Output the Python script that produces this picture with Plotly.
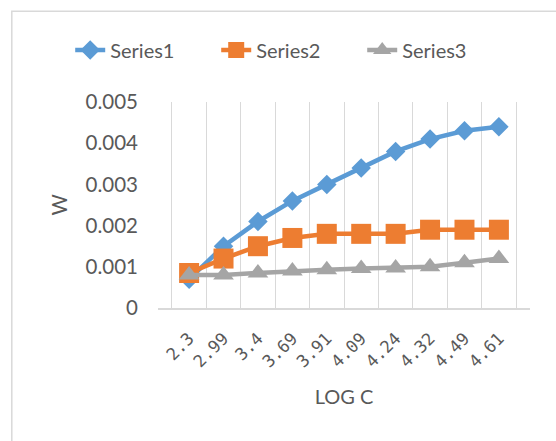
import plotly.graph_objects as go

# Category labels (log concentration) and the three measured series
log_c = ["2.3", "2.99", "3.4", "3.69", "3.91", "4.09", "4.24", "4.32", "4.49", "4.61"]
series1 = [0.0007, 0.0015, 0.0021, 0.0026, 0.0030, 0.0034, 0.0038, 0.0041, 0.0043, 0.0044]
series2 = [0.00085, 0.0012, 0.0015, 0.0017, 0.0018, 0.0018, 0.0018, 0.0019, 0.0019, 0.0019]
series3 = [0.0008, 0.0008, 0.00085, 0.0009, 0.00093, 0.00096, 0.00097, 0.0010, 0.0011, 0.0012]
y_ticks = [0, 0.001, 0.002, 0.003, 0.004, 0.005]

FONT = "Lato"
TEXT = "#595959"
GRID = "#d9d9d9"

fig = go.Figure()
styles = [
    ("Series1", series1, "#5B9BD5", "diamond", 15),
    ("Series2", series2, "#ED7D31", "square", 20),
    ("Series3", series3, "#A5A5A5", "triangle-up", 18),
]
for name, vals, color, symbol, size in styles:
    fig.add_trace(go.Scatter(
        x=log_c, y=vals, name=name, mode="lines+markers",
        line=dict(color=color, width=4.5),
        marker=dict(symbol=symbol, size=size, color=color),
    ))

fig.update_layout(
    width=556, height=441,
    margin=dict(l=158, r=26, t=102, b=133),
    paper_bgcolor="white", plot_bgcolor="white",
    font=dict(family=FONT, color=TEXT),
    showlegend=True,
    legend=dict(
        orientation="h", x=-0.236, xanchor="left", y=1.252, yanchor="middle",
        font=dict(size=20, color=TEXT), bgcolor="rgba(0,0,0,0)",
        entrywidth=101, entrywidthmode="pixels",
    ),
    xaxis=dict(
        type="category", tickson="boundaries", showgrid=True, gridcolor=GRID,
        gridwidth=1, showline=True, linecolor=GRID, linewidth=1.5,
        ticks="", tickangle=-45,
        tickfont=dict(size=17, color=TEXT, family="DejaVu Sans Mono"),
        ticklabelstandoff=12, zeroline=False,
        title=dict(text="LOG C", font=dict(size=20, color=TEXT), standoff=20),
    ),
    yaxis=dict(
        range=[0, 0.005], tickvals=y_ticks, tickformat="~g", showgrid=False,
        zeroline=False, showline=False, ticks="",
        tickfont=dict(size=20.5, color=TEXT), ticklabelstandoff=19,
        title=dict(text="W", font=dict(size=20.5, color=TEXT), standoff=12),
    ),
    shapes=[dict(
        type="rect", xref="paper", yref="paper",
        x0=-0.393, x1=2.0, y0=-2.0, y1=1.44,
        line=dict(color=GRID, width=1.5), fillcolor="rgba(0,0,0,0)", layer="below",
    )],
)

fig.write_html("out.html")
